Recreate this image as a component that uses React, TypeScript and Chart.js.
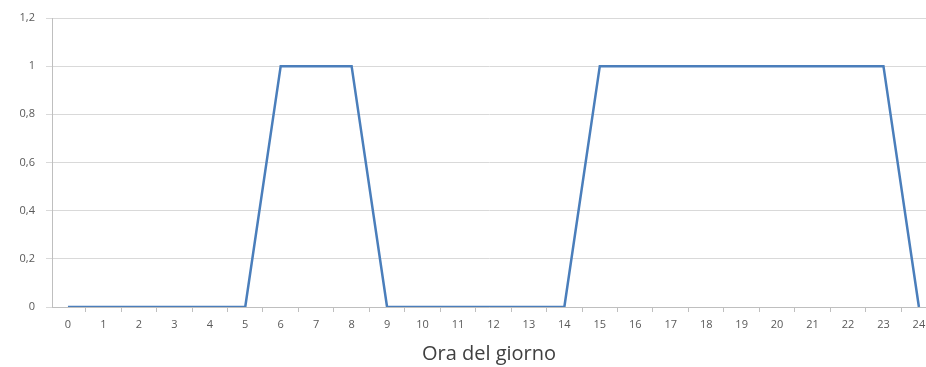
import React, { useEffect, useRef } from "react";
import { Chart, registerables } from "chart.js";

Chart.register(...registerables);

const hours: number[] = [0, 1, 2, 3, 4, 5, 6, 7, 8, 9, 10, 11, 12, 13, 14, 15, 16, 17, 18, 19, 20, 21, 22, 23, 24];
const values: number[] = [0, 0, 0, 0, 0, 0, 1, 1, 1, 0, 0, 0, 0, 0, 0, 1, 1, 1, 1, 1, 1, 1, 1, 1, 0];
const xTitle = "Ora del giorno";
const yMin = 0;
const yMax = 1.2;
const yStep = 0.2;

export default function App() {
  const ref = useRef<HTMLCanvasElement | null>(null);

  useEffect(() => {
    if (!ref.current) return;
    const fontFamily = "'Open Sans', Lato, sans-serif";
    const chart = new Chart(ref.current, {
      type: "line",
      data: {
        datasets: [
          {
            data: hours.map((h, i) => ({ x: h, y: values[i] })),
            borderColor: "#4a7ebb",
            borderWidth: 2.5,
            pointRadius: 0,
            tension: 0,
            fill: false,
          },
        ],
      },
      options: {
        animation: false,
        responsive: true,
        maintainAspectRatio: false,
        layout: { padding: { top: 18, right: 0, bottom: 0, left: 0 } },
        plugins: { legend: { display: false }, tooltip: { enabled: false } },
        scales: {
          x: {
            type: "linear",
            min: -0.45,
            max: 24.2,
            afterBuildTicks: (scale: any) => {
              const t: { value: number }[] = [];
              for (let v = 0; v <= hours[hours.length - 1]; v += 0.5) t.push({ value: v });
              scale.ticks = t;
            },
            afterFit: (scale: any) => {
              scale.height = 60;
              scale.paddingRight = 0;
              scale.paddingLeft = 0;
            },
            ticks: {
              autoSkip: false,
              maxRotation: 0,
              minRotation: 0,
              padding: 6,
              color: "#595959",
              font: { family: fontFamily, size: 11 },
              callback: (v: any) => (Number.isInteger(Number(v)) ? String(v) : ""),
            },
            grid: {
              drawOnChartArea: false,
              tickLength: 5,
              color: (ctx: any) =>
                ctx.tick && Number.isInteger(ctx.tick.value) ? "rgba(0,0,0,0)" : "#bfbfbf",
            },
            border: { color: "#bfbfbf", width: 1 },
            title: {
              display: true,
              text: xTitle,
              color: "#404040",
              font: { family: fontFamily, size: 20 },
              padding: { top: 4, bottom: 1 },
            },
          },
          y: {
            min: yMin,
            max: yMax,
            afterFit: (scale: any) => {
              scale.width = 52;
            },
            ticks: {
              stepSize: yStep,
              padding: 11,
              color: "#595959",
              font: { family: fontFamily, size: 11 },
              callback: (v: any) => String(Math.round(Number(v) * 10) / 10).replace(".", ","),
            },
            grid: { color: "#d9d9d9", tickLength: 6, lineWidth: 1 },
            border: { color: "#bfbfbf", width: 1 },
          },
        },
      },
    });
    return () => chart.destroy();
  }, []);

  return (
    <div style={{ position: "fixed", left: 0, top: 0, width: 926, height: 367, background: "#fff" }}>
      <canvas ref={ref} />
    </div>
  );
}
